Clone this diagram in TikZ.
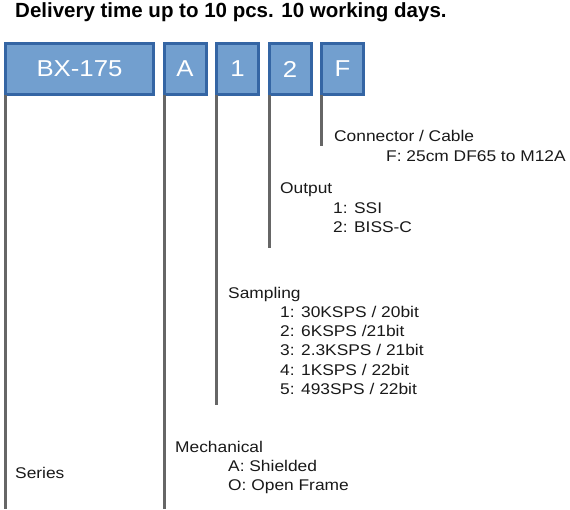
\documentclass[tikz,border=0pt]{standalone}
\usepackage{fontspec}
\setmainfont{Liberation Sans}
\newfontfamily\widesans{Liberation Sans}[FakeStretch=1.12]
\usepackage{tikz}
\usetikzlibrary{positioning}

\definecolor{codefill}{HTML}{729FCF}
\definecolor{codeline}{HTML}{3465A4}
\definecolor{stemgray}{HTML}{666666}

\begin{document}
\begin{tikzpicture}[x=1pt, y=-1pt,
  code/.style={draw=codeline, fill=codefill, line width=3pt, outer sep=0pt, inner sep=0pt,
    minimum height=51pt, minimum width=42pt, text=white, font=\widesans\fontsize{23}{26}\selectfont},
  stem/.style={draw=stemgray, line width=3pt},
  lbl/.style={anchor=base west, inner sep=0pt, text=black!90, font=\widesans\fontsize{15.5}{19}\selectfont}
]
\useasboundingbox (0,0) rectangle (570,509);

\node[anchor=base west, inner sep=0pt, font=\bfseries\fontsize{20.5}{24}\selectfont] (title) at (15,17) {Delivery time up to 10 pcs. 10 working days.};

% code boxes
\node[code, minimum width=148pt] (bx) at (79.5,69) {BX-175};
\node[code, right=10.5pt of bx] (mech) {A};
\node[code, right=10.5pt of mech] (samp) {1};
\node[code, right=10.5pt of samp] (outp) {2};
\node[code, right=10.5pt of outp] (conn) {F};

% stem ends
\coordinate (bxend) at (bx.south west |- 0,509);
\coordinate (mechend) at (mech.south west |- 0,509);
\coordinate (sampend) at (samp.south west |- 0,405);
\coordinate (outpend) at (outp.south west |- 0,248);
\coordinate (connend) at (conn.south west |- 0,146);

\draw[stem] (bx.south west) -- (bxend);
\draw[stem] (mech.south west) -- (mechend);
\draw[stem] (samp.south west) -- (sampend);
\draw[stem] (outp.south west) -- (outpend);
\draw[stem] (conn.south west) -- (connend);

% connector
\node[lbl] (connlbl) at (334,141) {Connector / Cable};
\node[lbl] (conn1) at (386,161) {F: 25cm DF65 to M12A};

% output
\node[lbl] (outplbl) at (280,193) {Output};
\node[lbl] (outp1) at (333,213) {1: SSI};
\node[lbl] (outp2) at (333,232) {2: BISS-C};

% sampling
\node[lbl] (samplbl) at (228,298) {Sampling};
\foreach \t [count=\i] in {1: 30KSPS / 20bit, 2: 6KSPS /21bit, 3: 2.3KSPS / 21bit, 4: 1KSPS / 22bit, 5: 493SPS / 22bit}
  \node[lbl] (samp\i) at (280,298+19.3*\i) {\t};

% mechanical
\node[lbl] (mechlbl) at (175,452) {Mechanical};
\node[lbl] (mech1) at (228,471) {A: Shielded};
\node[lbl] (mech2) at (228,490) {O: Open Frame};

% series
\node[lbl] (serlbl) at (15,478) {Series};
\end{tikzpicture}
\end{document}
